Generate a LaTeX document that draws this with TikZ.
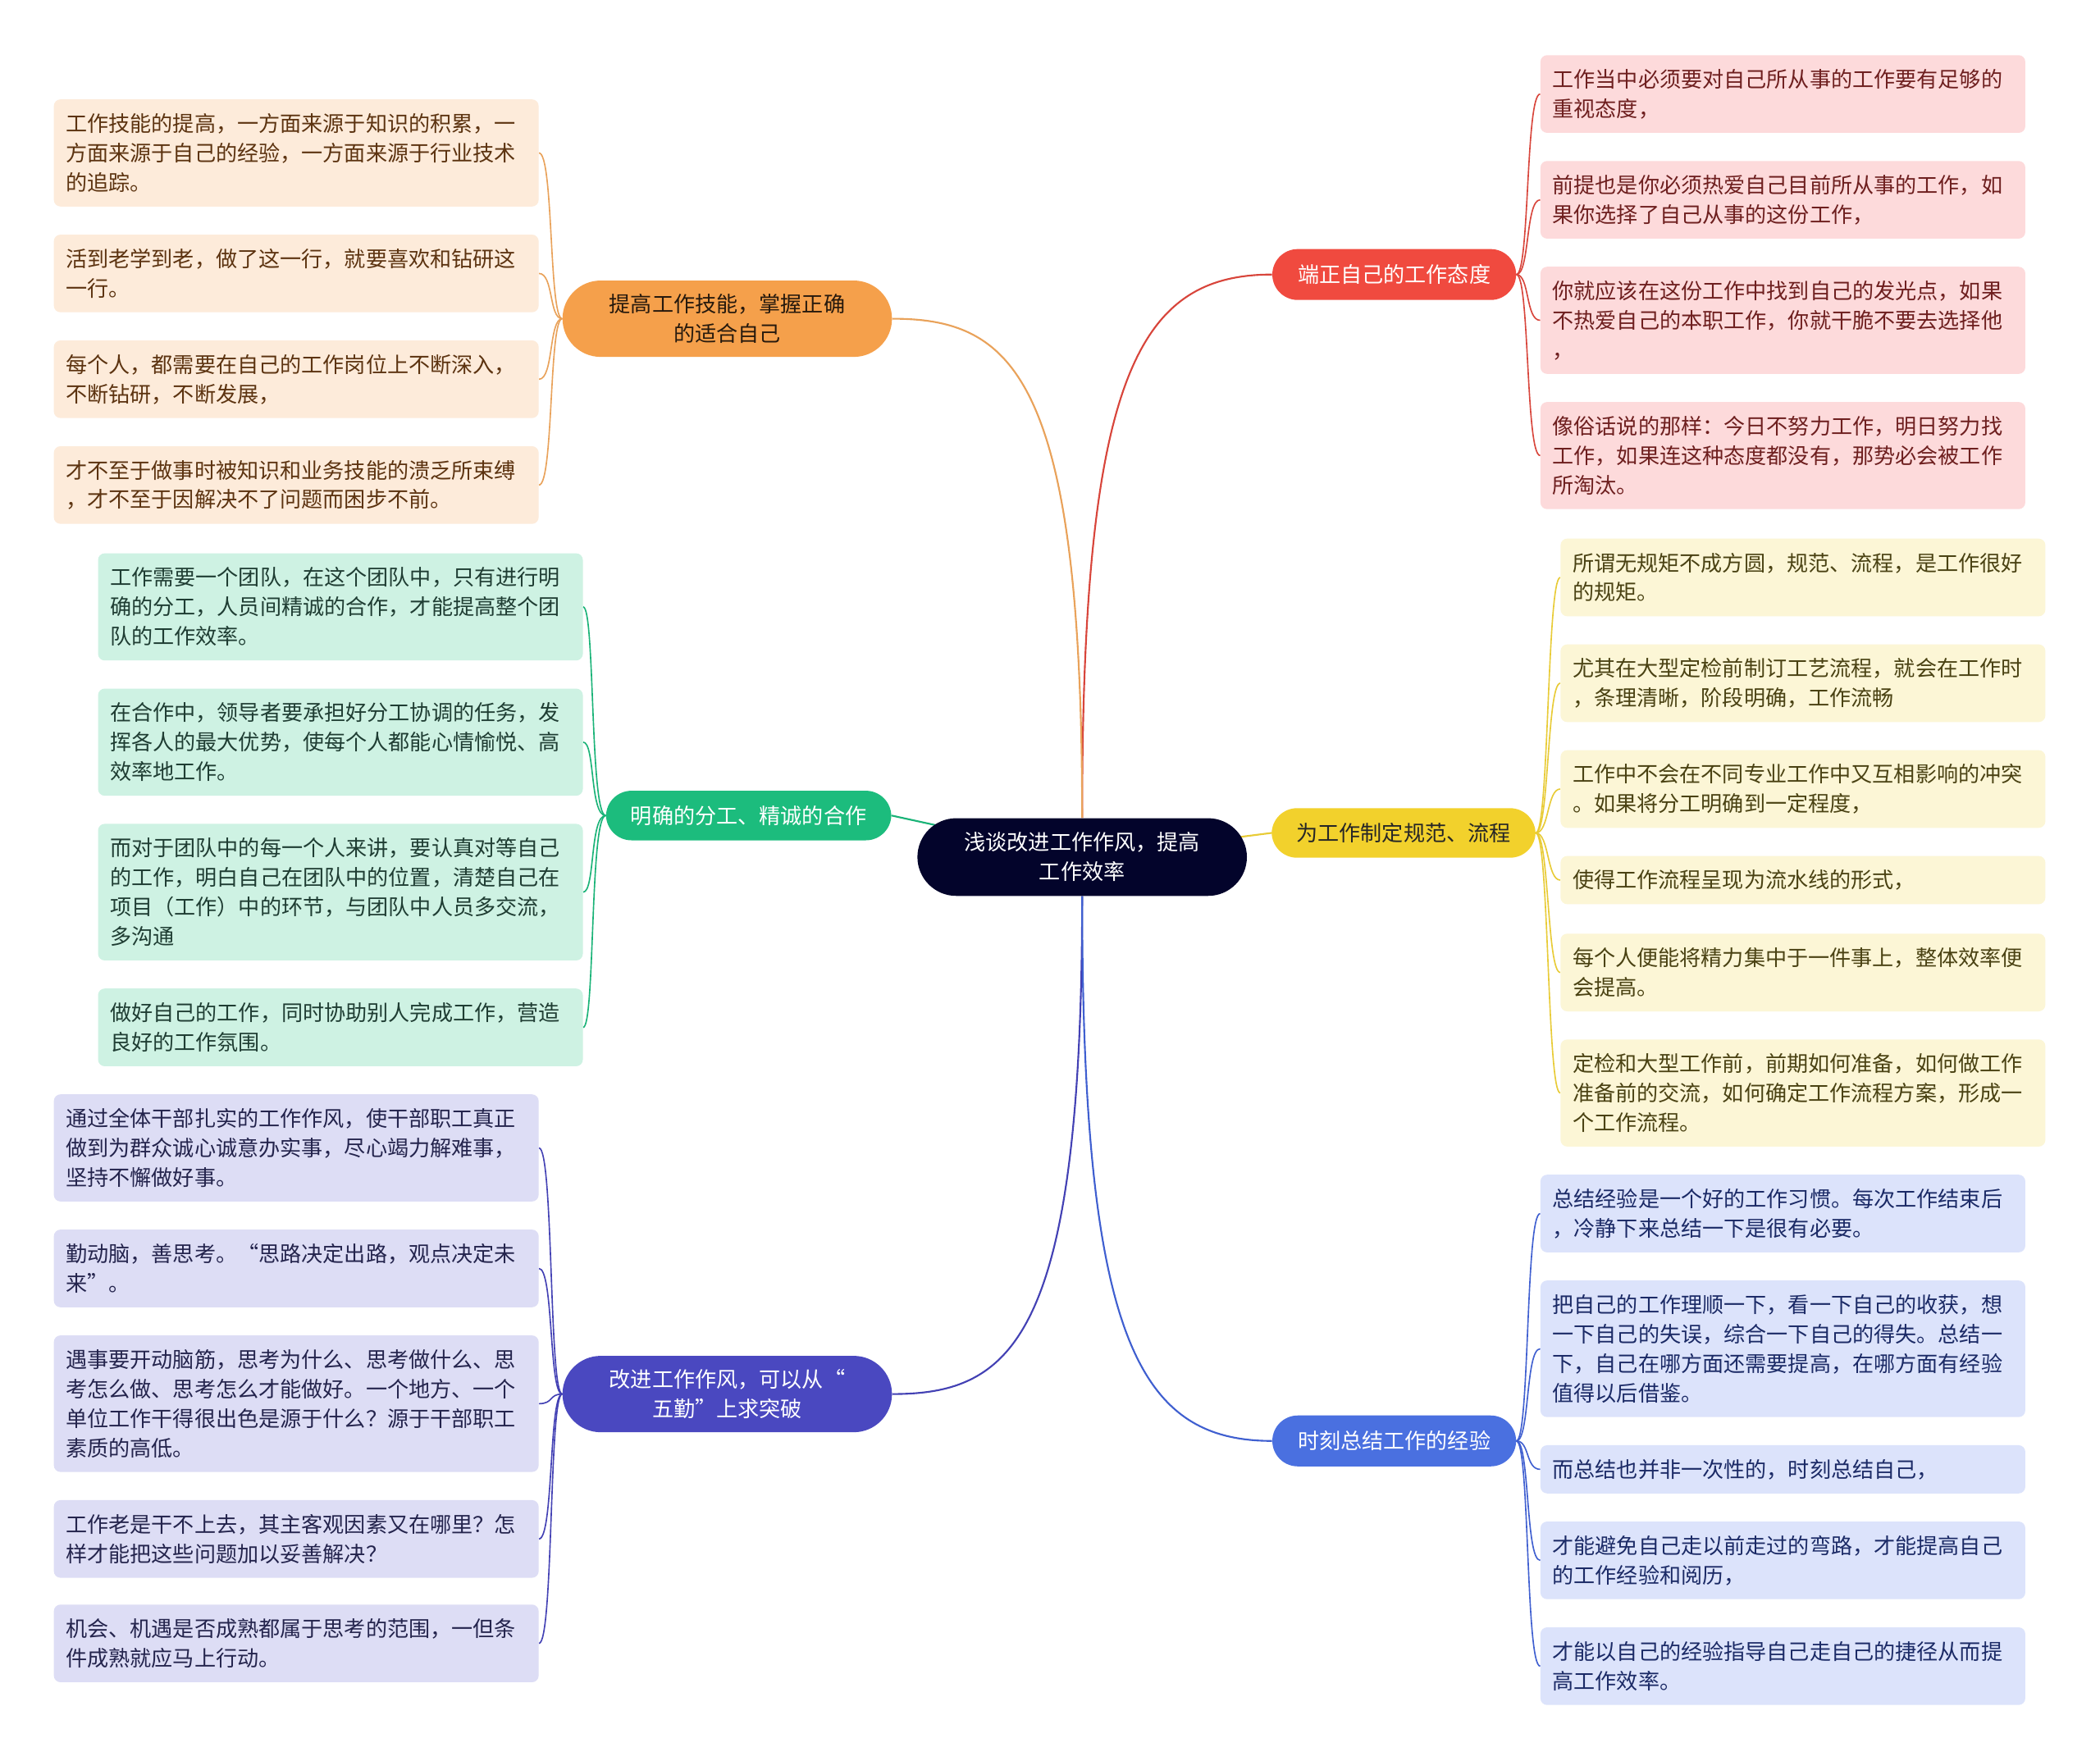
\documentclass[tikz,border=0pt]{standalone}
\usepackage{fontspec}
\newfontfamily\cjk{Noto Sans CJK SC}
\usetikzlibrary{backgrounds}
\definecolor{cCen}{HTML}{03042B}
\definecolor{cRed}{HTML}{F04A3F}
\definecolor{eRed}{HTML}{D8453B}
\definecolor{cOra}{HTML}{F5A04B}
\definecolor{eOra}{HTML}{E9A25A}
\definecolor{cGre}{HTML}{1CBC7D}
\definecolor{eGre}{HTML}{19B377}
\definecolor{cYel}{HTML}{F2D12C}
\definecolor{eYel}{HTML}{E8CB36}
\definecolor{cBlu}{HTML}{4A70E0}
\definecolor{eBlu}{HTML}{3F5FD0}
\definecolor{cPur}{HTML}{4A48C0}
\definecolor{ePur}{HTML}{4341B4}
\definecolor{fRed}{HTML}{FDDADB}
\definecolor{tRed}{HTML}{6E1F1F}
\definecolor{fOra}{HTML}{FDEBDA}
\definecolor{tOra}{HTML}{5C3310}
\definecolor{fGre}{HTML}{CEF2E3}
\definecolor{tGre}{HTML}{1F3D33}
\definecolor{fYel}{HTML}{FCF6D6}
\definecolor{tYel}{HTML}{4A4213}
\definecolor{fPur}{HTML}{DDDDF5}
\definecolor{tPur}{HTML}{24244D}
\definecolor{fBlu}{HTML}{DCE3FB}
\definecolor{tBlu}{HTML}{1B2A66}
\tikzset{
  every node/.style={font=\cjk\fontsize{16}{22}\selectfont},
  leaf/.style={rounded corners=5pt, inner xsep=9pt, inner ysep=2pt, text width=344pt, align=left, anchor=north west},
  lO/.style={leaf, fill=fOra, text=tOra},
  lR/.style={leaf, fill=fRed, text=tRed},
  lG/.style={leaf, fill=fGre, text=tGre},
  lY/.style={leaf, fill=fYel, text=tYel},
  lP/.style={leaf, fill=fPur, text=tPur},
  lB/.style={leaf, fill=fBlu, text=tBlu},
  branch/.style={inner sep=0pt, align=center, minimum height=38pt, rounded corners=19pt},
  tallbranch/.style={inner sep=0pt, align=center, minimum height=57pt, rounded corners=28.5pt},
  mainedge/.style={line width=1.3pt},
  subedge/.style={line width=1pt},
}
\begin{document}
\begin{tikzpicture}[x=1pt,y=-1pt]
\useasboundingbox (0,0) rectangle (1568,1315);

% central
\node[fill=cCen, text=white, inner sep=0pt, align=center, minimum width=246pt, minimum height=58pt, rounded corners=29pt] (c) at (808,640) {浅谈改进工作作风，提高\\工作效率};

% branches
\node[branch, fill=cRed, text=white, minimum width=182pt] (bR) at (1041,205) {端正自己的工作态度};
\node[branch, fill=cYel, text=black!85, minimum width=197pt, minimum height=37pt] (bY) at (1048,622) {为工作制定规范、流程};
\node[branch, fill=cBlu, text=white, minimum width=182pt] (bB) at (1041,1076) {时刻总结工作的经验};
\node[tallbranch, fill=cOra, text=black!80!brown, minimum width=246pt] (bO) at (543,238) {提高工作技能，掌握正确\\的适合自己};
\node[branch, fill=cGre, text=white, minimum width=213pt, minimum height=37pt] (bG) at (559,609) {明确的分工、精诚的合作};
\node[tallbranch, fill=cPur, text=white, minimum width=246pt] (bP) at (543,1041) {改进工作作风，可以从“\\五勤”上求突破};

% orange leaves
\node[lO, minimum height=80pt] (o1) at (40,74) {工作技能的提高，一方面来源于知识的积累，一\\方面来源于自己的经验，一方面来源于行业技术\\的追踪。};
\node[lO, minimum height=58pt] (o2) at (40,175) {活到老学到老，做了这一行，就要喜欢和钻研这\\一行。};
\node[lO, minimum height=58pt] (o3) at (40,254) {每个人，都需要在自己的工作岗位上不断深入，\\不断钻研，不断发展，};
\node[lO, minimum height=58pt] (o4) at (40,333) {才不至于做事时被知识和业务技能的溃乏所束缚\\，才不至于因解决不了问题而困步不前。};

% green leaves
\node[lG, minimum height=80pt] (g1) at (73,413) {工作需要一个团队，在这个团队中，只有进行明\\确的分工，人员间精诚的合作，才能提高整个团\\队的工作效率。};
\node[lG, minimum height=80pt] (g2) at (73,514) {在合作中，领导者要承担好分工协调的任务，发\\挥各人的最大优势，使每个人都能心情愉悦、高\\效率地工作。};
\node[lG, minimum height=102pt] (g3) at (73,615) {而对于团队中的每一个人来讲，要认真对等自己\\的工作，明白自己在团队中的位置，清楚自己在\\项目（工作）中的环节，与团队中人员多交流，\\多沟通};
\node[lG, minimum height=58pt] (g4) at (73,738) {做好自己的工作，同时协助别人完成工作，营造\\良好的工作氛围。};

% purple leaves
\node[lP, minimum height=80pt] (p1) at (40,817) {通过全体干部扎实的工作作风，使干部职工真正\\做到为群众诚心诚意办实事，尽心竭力解难事，\\坚持不懈做好事。};
\node[lP, minimum height=58pt] (p2) at (40,918) {勤动脑，善思考。“思路决定出路，观点决定未\\来”。};
\node[lP, minimum height=102pt] (p3) at (40,997) {遇事要开动脑筋，思考为什么、思考做什么、思\\考怎么做、思考怎么才能做好。一个地方、一个\\单位工作干得很出色是源于什么？源于干部职工\\素质的高低。};
\node[lP, minimum height=58pt] (p4) at (40,1120) {工作老是干不上去，其主客观因素又在哪里？怎\\样才能把这些问题加以妥善解决？};
\node[lP, minimum height=58pt] (p5) at (40,1198) {机会、机遇是否成熟都属于思考的范围，一但条\\件成熟就应马上行动。};

% red leaves
\node[lR, minimum height=58pt] (r1) at (1150,41) {工作当中必须要对自己所从事的工作要有足够的\\重视态度，};
\node[lR, minimum height=58pt] (r2) at (1150,120) {前提也是你必须热爱自己目前所从事的工作，如\\果你选择了自己从事的这份工作，};
\node[lR, minimum height=80pt] (r3) at (1150,199) {你就应该在这份工作中找到自己的发光点，如果\\不热爱自己的本职工作，你就干脆不要去选择他\\，};
\node[lR, minimum height=80pt] (r4) at (1150,300) {像俗话说的那样：今日不努力工作，明日努力找\\工作，如果连这种态度都没有，那势必会被工作\\所淘汰。};

% yellow leaves
\node[lY, minimum height=58pt] (y1) at (1165,402) {所谓无规矩不成方圆，规范、流程，是工作很好\\的规矩。};
\node[lY, minimum height=58pt] (y2) at (1165,481) {尤其在大型定检前制订工艺流程，就会在工作时\\，条理清晰，阶段明确，工作流畅};
\node[lY, minimum height=58pt] (y3) at (1165,560) {工作中不会在不同专业工作中又互相影响的冲突\\。如果将分工明确到一定程度，};
\node[lY, minimum height=36pt] (y4) at (1165,639) {使得工作流程呈现为流水线的形式，};
\node[lY, minimum height=58pt] (y5) at (1165,697) {每个人便能将精力集中于一件事上，整体效率便\\会提高。};
\node[lY, minimum height=80pt] (y6) at (1165,776) {定检和大型工作前，前期如何准备，如何做工作\\准备前的交流，如何确定工作流程方案，形成一\\个工作流程。};

% blue leaves
\node[lB, minimum height=58pt] (u1) at (1150,877) {总结经验是一个好的工作习惯。每次工作结束后\\，冷静下来总结一下是很有必要。};
\node[lB, minimum height=102pt] (u2) at (1150,956) {把自己的工作理顺一下，看一下自己的收获，想\\一下自己的失误，综合一下自己的得失。总结一\\下，自己在哪方面还需要提高，在哪方面有经验\\值得以后借鉴。};
\node[lB, minimum height=36pt] (u3) at (1150,1079) {而总结也并非一次性的，时刻总结自己，};
\node[lB, minimum height=58pt] (u4) at (1150,1136) {才能避免自己走以前走过的弯路，才能提高自己\\的工作经验和阅历，};
\node[lB, minimum height=58pt] (u5) at (1150,1215) {才能以自己的经验指导自己走自己的捷径从而提\\高工作效率。};

\begin{scope}[on background layer]
\fill[white] (0,0) rectangle (1568,1315);
% main edges
\draw[mainedge, eRed] (c.north) .. controls +(0,-330) and +(-100,0) .. (bR.west);
\draw[mainedge, eOra] (c.north) .. controls +(0,-330) and +(90,0) .. (bO.east);
\draw[mainedge, ePur] (c.south) .. controls +(0,330) and +(90,0) .. (bP.east);
\draw[mainedge, eBlu] (c.south) .. controls +(0,330) and +(-100,0) .. (bB.west);
\draw[mainedge, eGre] (bG.east) -- (c.center);
\draw[mainedge, eYel] (c.center) -- (bY.west);
% leaf connectors
\foreach \n in {r1,r2,r3,r4}
  \draw[subedge, eRed] (bR.east) .. controls +(10,0) and +(-11,0) .. (\n.west);
\foreach \n in {y1,y2,y3,y4,y5,y6}
  \draw[subedge, eYel] (bY.east) .. controls +(10,0) and +(-10,0) .. (\n.west);
\foreach \n in {u1,u2,u3,u4,u5}
  \draw[subedge, eBlu] (bB.east) .. controls +(10,0) and +(-11,0) .. (\n.west);
\foreach \n in {o1,o2,o3,o4}
  \draw[subedge, eOra] (bO.west) .. controls +(-10,0) and +(11,0) .. (\n.east);
\foreach \n in {g1,g2,g3,g4}
  \draw[subedge, eGre] (bG.west) .. controls +(-12,0) and +(9,0) .. (\n.east);
\foreach \n in {p1,p2,p3,p4,p5}
  \draw[subedge, ePur] (bP.west) .. controls +(-10,0) and +(11,0) .. (\n.east);
\end{scope}
\end{tikzpicture}
\end{document}
